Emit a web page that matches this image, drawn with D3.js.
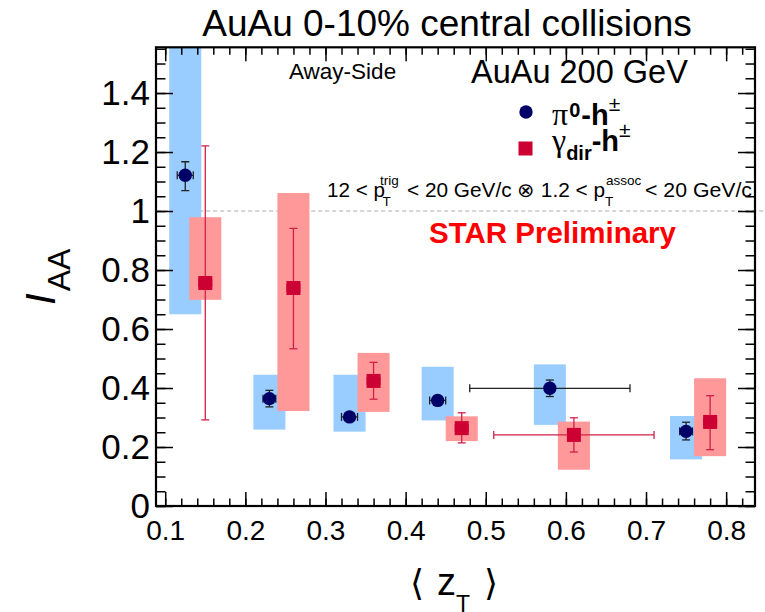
<!DOCTYPE html>
<html>
<head>
<meta charset="utf-8">
<script src="https://cdnjs.cloudflare.com/ajax/libs/d3/7.8.5/d3.min.js"></script>
<style>
  body { margin: 0; background: #fff; }
  svg { display: block; font-family: "Liberation Sans", Arial, Helvetica, sans-serif; }
</style>
</head>
<body>
<script>
// pi0-h data (blue circles)
var ztPi = [0.125, 0.23, 0.33, 0.44, 0.58, 0.75];
var iaaPi = [1.121, 0.364, 0.302, 0.358, 0.399, 0.253];
var statLoPi = [1.069, 0.336, 0.287, 0.343, 0.371, 0.224];
var statHiPi = [1.167, 0.392, 0.317, 0.373, 0.427, 0.284];
var xErrPi = [0.01, 0.008, 0.01, 0.01, 0.1, 0.008];
var sysLoPi = [0.65, 0.259, 0.252, 0.29, 0.275, 0.158];
var sysHiPi = [1.6, 0.445, 0.445, 0.472, 0.48, 0.305];

// gamma_dir-h data (red squares)
var ztG = [0.15, 0.26, 0.36, 0.47, 0.61, 0.78];
var iaaG = [0.756, 0.739, 0.424, 0.264, 0.241, 0.285];
var statLoG = [0.292, 0.533, 0.362, 0.214, 0.183, 0.191];
var statHiG = [1.221, 0.941, 0.487, 0.316, 0.299, 0.374];
var xErrG = [0.008, 0.008, 0.008, 0.008, 0.1, 0.008];
var sysLoG = [0.699, 0.322, 0.319, 0.22, 0.123, 0.169];
var sysHiG = [0.979, 1.061, 0.519, 0.304, 0.286, 0.433];

var xTicks = [0.1, 0.2, 0.3, 0.4, 0.5, 0.6, 0.7, 0.8];
var yTicks = [0, 0.2, 0.4, 0.6, 0.8, 1, 1.2, 1.4];

var W = 765, H = 612;
var mL = 156, mR = 755, mT = 47.3, mB = 506;
var boxHalf = 0.02;

var svg = d3.select("body").append("svg")
    .attr("width", W)
    .attr("height", H);

var x = d3.scaleLinear().domain([0.0885, 0.836]).range([mL, mR]);
var y = d3.scaleLinear().domain([0, 1.555]).range([mB, mT]);

var xMinor = d3.range(0.1, 0.83, 0.02).map(d => +d.toFixed(2));
var yMinor = d3.range(0, 1.555, 0.05).map(d => +d.toFixed(2));

var pi = ztPi.map((d, i) => ({x: d, y: iaaPi[i], lo: statLoPi[i], hi: statHiPi[i], xe: xErrPi[i], sLo: sysLoPi[i], sHi: sysHiPi[i]}));
var ga = ztG.map((d, i) => ({x: d, y: iaaG[i], lo: statLoG[i], hi: statHiG[i], xe: xErrG[i], sLo: sysLoG[i], sHi: sysHiG[i]}));

svg.append("clipPath").attr("id", "frame")
    .append("rect")
    .attr("x", mL).attr("y", mT)
    .attr("width", mR - mL).attr("height", mB - mT);

// dashed line at 1
svg.append("line")
    .attr("x1", x(0.09)).attr("x2", W)
    .attr("y1", y(1)).attr("y2", y(1))
    .style("stroke", "#aaa")
    .style("stroke-width", 1)
    .style("stroke-dasharray", "4,3");

var plot = svg.append("g").attr("clip-path", "url(#frame)");

// systematic boxes
plot.selectAll(".sysPi").data(pi).enter().append("rect")
    .attr("x", d => x(d.x - boxHalf))
    .attr("width", d => x(d.x + boxHalf) - x(d.x - boxHalf))
    .attr("y", d => y(d.sHi))
    .attr("height", d => y(d.sLo) - y(d.sHi))
    .style("fill", "#99ccff");

plot.selectAll(".sysG").data(ga).enter().append("rect")
    .attr("x", d => x(d.x - boxHalf))
    .attr("width", d => x(d.x + boxHalf) - x(d.x - boxHalf))
    .attr("y", d => y(d.sHi))
    .attr("height", d => y(d.sLo) - y(d.sHi))
    .style("fill", "#ff9999");

// error bars
function errors(data, color, width) {
    var g = plot.append("g").style("stroke", color).style("stroke-width", width);
    data.forEach(function(d) {
        g.append("line").attr("x1", x(d.x)).attr("x2", x(d.x)).attr("y1", y(d.lo)).attr("y2", y(d.hi));
        g.append("line").attr("x1", x(d.x) - 4).attr("x2", x(d.x) + 4).attr("y1", y(d.lo)).attr("y2", y(d.lo));
        g.append("line").attr("x1", x(d.x) - 4).attr("x2", x(d.x) + 4).attr("y1", y(d.hi)).attr("y2", y(d.hi));
        g.append("line").attr("x1", x(d.x - d.xe)).attr("x2", x(d.x + d.xe)).attr("y1", y(d.y)).attr("y2", y(d.y));
        g.append("line").attr("x1", x(d.x - d.xe)).attr("x2", x(d.x - d.xe)).attr("y1", y(d.y) - 4).attr("y2", y(d.y) + 4);
        g.append("line").attr("x1", x(d.x + d.xe)).attr("x2", x(d.x + d.xe)).attr("y1", y(d.y) - 4).attr("y2", y(d.y) + 4);
    });
}
errors(pi, "#222", 1.3);
errors(ga, "#d0204a", 1.3);

plot.selectAll(".ptPi").data(pi).enter().append("circle")
    .attr("cx", d => x(d.x))
    .attr("cy", d => y(d.y))
    .attr("r", 6.7)
    .style("fill", "#000066");

plot.selectAll(".ptG").data(ga).enter().append("rect")
    .attr("x", d => x(d.x) - 7)
    .attr("y", d => y(d.y) - 7)
    .attr("width", 14).attr("height", 14)
    .style("fill", "#cc0033");

// axes (ticks inside the frame, ROOT style)
function styleAxis(g) {
    g.select(".domain").remove();
    g.selectAll(".tick line").style("stroke", "#000").style("stroke-width", 1.5);
    g.attr("font-family", null).attr("font-size", null);
}

svg.append("g").attr("transform", "translate(0," + mB + ")")
    .call(d3.axisBottom(x).tickValues(xTicks).tickSize(-14).tickPadding(14).tickFormat(d3.format("")))
    .call(styleAxis)
    .selectAll("text").style("font-size", "28px").style("fill", "#000");
svg.append("g").attr("transform", "translate(0," + mB + ")")
    .call(d3.axisBottom(x).tickValues(xMinor).tickSize(-7.5).tickFormat(""))
    .call(styleAxis);
svg.append("g").attr("transform", "translate(0," + mT + ")")
    .call(d3.axisTop(x).tickValues(xTicks).tickSize(-14).tickFormat(""))
    .call(styleAxis);
svg.append("g").attr("transform", "translate(0," + mT + ")")
    .call(d3.axisTop(x).tickValues(xMinor).tickSize(-7.5).tickFormat(""))
    .call(styleAxis);

svg.append("g").attr("transform", "translate(" + mL + ",0)")
    .call(d3.axisLeft(y).tickValues(yTicks).tickSize(-17).tickPadding(6).tickFormat(d3.format("")))
    .call(styleAxis)
    .selectAll("text").style("font-size", "35px").style("fill", "#000");
svg.append("g").attr("transform", "translate(" + mL + ",0)")
    .call(d3.axisLeft(y).tickValues(yMinor).tickSize(-9.5).tickFormat(""))
    .call(styleAxis);
svg.append("g").attr("transform", "translate(" + mR + ",0)")
    .call(d3.axisRight(y).tickValues(yTicks).tickSize(-17).tickFormat(""))
    .call(styleAxis);
svg.append("g").attr("transform", "translate(" + mR + ",0)")
    .call(d3.axisRight(y).tickValues(yMinor).tickSize(-9.5).tickFormat(""))
    .call(styleAxis);

// frame
svg.append("rect")
    .attr("x", mL).attr("y", mT)
    .attr("width", mR - mL).attr("height", mB - mT)
    .style("fill", "none").style("stroke", "#000").style("stroke-width", 2.2);

// title
svg.append("text")
    .attr("x", 447).attr("y", 36)
    .attr("text-anchor", "middle")
    .style("font-size", "37px")
    .text("AuAu 0-10% central collisions");

svg.append("text")
    .attr("x", 289).attr("y", 79)
    .style("font-size", "22.5px")
    .text("Away-Side");

svg.append("text")
    .attr("x", 471).attr("y", 83)
    .style("font-size", "32.5px")
    .text("AuAu 200 GeV");

// legend
svg.append("circle").attr("cx", 526).attr("cy", 112).attr("r", 6.7).style("fill", "#000066");
svg.append("rect").attr("x", 518.5).attr("y", 141.5).attr("width", 14).attr("height", 14).style("fill", "#cc0033");

var l1 = svg.append("text").attr("x", 552).attr("y", 125);
l1.append("tspan").style("font-family", "Liberation Serif, serif").style("font-size", "32px").text("π");
l1.append("tspan").style("font-weight", "bold").style("font-size", "20px").attr("dx", 1).attr("dy", -8).text("0");
l1.append("tspan").style("font-weight", "bold").style("font-size", "29px").attr("dx", 1).attr("dy", 8).text("-h");
l1.append("tspan").style("font-size", "21px").attr("dy", -14).text("±");

var l2 = svg.append("text").attr("x", 552).attr("y", 151);
l2.append("tspan").style("font-family", "Liberation Serif, serif").style("font-size", "32px").text("γ");
l2.append("tspan").style("font-weight", "bold").style("font-size", "20px").attr("dy", 9).text("dir");
l2.append("tspan").style("font-weight", "bold").style("font-size", "29px").attr("dy", -9).text("-h");
l2.append("tspan").style("font-size", "21px").attr("dy", -14).text("±");

// kinematic range
var k = svg.append("text").style("font-size", "20px");
k.append("tspan").attr("x", 327).attr("y", 196.5).attr("textLength", 58).attr("lengthAdjust", "spacingAndGlyphs").text("12 < p");
k.append("tspan").attr("x", 380).attr("y", 185).style("font-size", "13.5px").text("trig");
k.append("tspan").attr("x", 382.5).attr("y", 206).style("font-size", "13.5px").text("T");
k.append("tspan").attr("x", 407).attr("y", 196.5).attr("textLength", 198).attr("lengthAdjust", "spacingAndGlyphs").text("< 20 GeV/c ⊗ 1.2 < p");
k.append("tspan").attr("x", 606).attr("y", 185).style("font-size", "13.5px").text("assoc");
k.append("tspan").attr("x", 605).attr("y", 206).style("font-size", "13.5px").text("T");
k.append("tspan").attr("x", 645).attr("y", 196.5).attr("textLength", 107).attr("lengthAdjust", "spacingAndGlyphs").text("< 20 GeV/c");

svg.append("text")
    .attr("x", 429).attr("y", 243)
    .style("font-size", "29.5px").style("font-weight", "bold").style("fill", "#ff0000")
    .text("STAR Preliminary");

// y title
var yt = svg.append("text").attr("transform", "translate(55,305) rotate(-90)");
yt.append("tspan").style("font-style", "italic").style("font-size", "42px").text("I");
yt.append("tspan").style("font-size", "32px").attr("dx", 2).attr("dy", 15).text("AA");

// x title
svg.append("text").attr("x", 410).attr("y", 595).style("font-family", "DejaVu Sans").style("font-size", "36px").text("⟨");
var xt = svg.append("text").attr("x", 437).attr("y", 595).style("font-size", "38px");
xt.append("tspan").text("z");
xt.append("tspan").style("font-size", "23px").attr("dy", 17).text("T");
svg.append("text").attr("x", 484).attr("y", 595).style("font-family", "DejaVu Sans").style("font-size", "36px").text("⟩");
</script>
</body>
</html>
